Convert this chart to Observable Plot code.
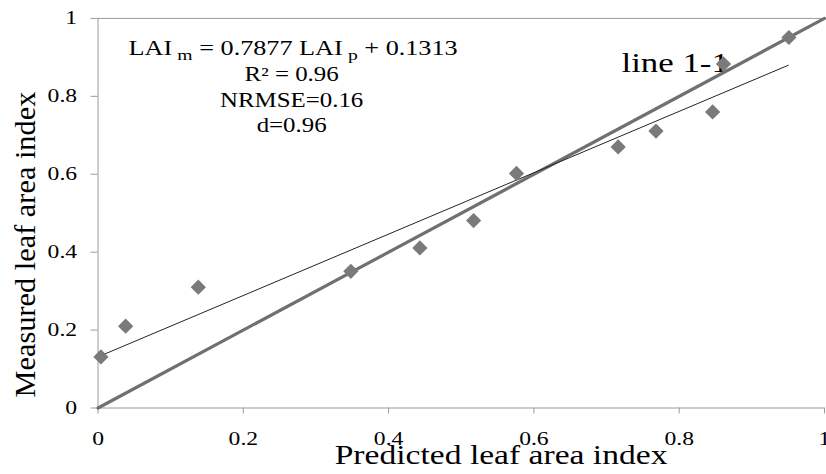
<!DOCTYPE html>
<html><head><meta charset="utf-8">
<script src="https://cdn.jsdelivr.net/npm/d3@7"></script>
<script src="https://cdn.jsdelivr.net/npm/@observablehq/plot@0.6"></script>
<style>
html,body{margin:0;padding:0;background:#fff;overflow:hidden}
#chart{width:826px;height:474px;overflow:hidden}
#chart svg, #chart svg text{font-family:"Liberation Serif", "DejaVu Serif", serif !important}
</style></head><body><div id="chart"></div>
<script>
// ---- data ----
const predicted = [0.004, 0.038, 0.138, 0.348, 0.443, 0.517, 0.576, 0.716, 0.768, 0.846, 0.861, 0.951];
const measured  = [0.131, 0.210, 0.310, 0.351, 0.411, 0.481, 0.602, 0.670, 0.711, 0.760, 0.883, 0.951];
const xTicks = [0, 0.2, 0.4, 0.6, 0.8, 1];
const yTicks = [0, 0.2, 0.4, 0.6, 0.8, 1];
const fitSlope = 0.7877;
const fitIntercept = 0.1313;
const fitRange = [0.005, 0.95];
const identityRange = [0, 1];
const equationParts = [
  {t: "LAI", sub: false}, {t: "m", sub: true},
  {t: " = 0.7877 LAI", sub: false}, {t: "p", sub: true},
  {t: " + 0.1313", sub: false}
];
const statLines = ["R\u00B2 = 0.96", "NRMSE=0.16", "d=0.96"];
const lineLabel = "line 1-1";
const xTitle = "Predicted leaf area index";
const yTitle = "Measured leaf area index";

const points = predicted.map((p, i) => ({p, m: measured[i]}));
const fitLine = fitRange.map(x => ({x, y: fitSlope * x + fitIntercept}));
const equationText = equationParts.map(d => d.t).join("");

const axisColor = "#9a9a9a";
const chart = Plot.plot({
  width: 830, height: 474,
  marginLeft: 98, marginRight: 2, marginTop: 18, marginBottom: 64.5,
  style: {background: "#fff", color: "#000", overflow: "visible"},
  x: {domain: [0, 1]},
  y: {domain: [0, 1]},
  marks: [
    Plot.ruleY([1], {stroke: axisColor}),
    Plot.ruleY([0], {stroke: axisColor}),
    Plot.ruleX([0], {stroke: axisColor}),
    Plot.axisX(xTicks, {tickSize: 6, tickPadding: 18, stroke: axisColor, fontSize: 19, tickFormat: d => String(d), label: null}),
    Plot.axisY(yTicks, {tickSize: 7, tickPadding: 14, stroke: axisColor, fontSize: 19, tickFormat: d => String(d), label: null}),
    Plot.text([xTitle], {frameAnchor: "bottom", textAnchor: "middle", lineAnchor: "bottom", dx: 40, dy: 56, fontSize: 27, fill: "#000"}),
    Plot.text([yTitle], {frameAnchor: "left", textAnchor: "middle", rotate: -90, dx: -73, dy: 31.5, fontSize: 30.5, fill: "#000"}),
    Plot.text([equationText], {x: 0.2685, y: 0.9055, lineAnchor: "bottom", fontSize: 20, fill: "#000"}),
    Plot.text(statLines, {x: 0.2665, y: (d, i) => 0.839 - i * 0.0655, lineAnchor: "bottom", fontSize: 20, fill: "#000"}),
    Plot.text([lineLabel], {x: 0.7205, y: 0.862, lineAnchor: "bottom", textAnchor: "start", fontSize: 28, fill: "#000"}),
    Plot.line(identityRange, {x: d => d, y: d => d, stroke: "#707070", strokeWidth: 3.2}),
    Plot.line(fitLine, {x: "x", y: "y", stroke: "#222", strokeWidth: 1}),
    Plot.dot(points, {x: "p", y: "m", symbol: "diamond2", r: 6.9, fill: "#7a7a7a", stroke: "none"})
  ]
});
chart.setAttribute("font-family", "Liberation Serif");
document.getElementById("chart").appendChild(chart);

// subscripts in the equation
d3.select(chart).selectAll("text").each(function() {
  if (this.textContent === equationText) {
    const t = d3.select(this);
    t.text(null);
    let shifted = false;
    equationParts.forEach(part => {
      const ts = t.append("tspan").text(part.t);
      if (part.sub) { ts.attr("font-size", 15).attr("dx", 4).attr("dy", 5); shifted = true; }
      else if (shifted) { ts.attr("dy", -5); shifted = false; }
    });
    this.dataset.stretch = "1.36";
  }
});
// horizontal stretch of horizontal text, as in the reference rendering
d3.select(chart).selectAll("text").each(function() {
  if (this.textContent === yTitle) return;
  const k = +(this.dataset.stretch || 1.25);
  const len = this.getComputedTextLength();
  this.setAttribute("textLength", (len * k).toFixed(1));
  this.setAttribute("lengthAdjust", "spacingAndGlyphs");
});
</script></body></html>
